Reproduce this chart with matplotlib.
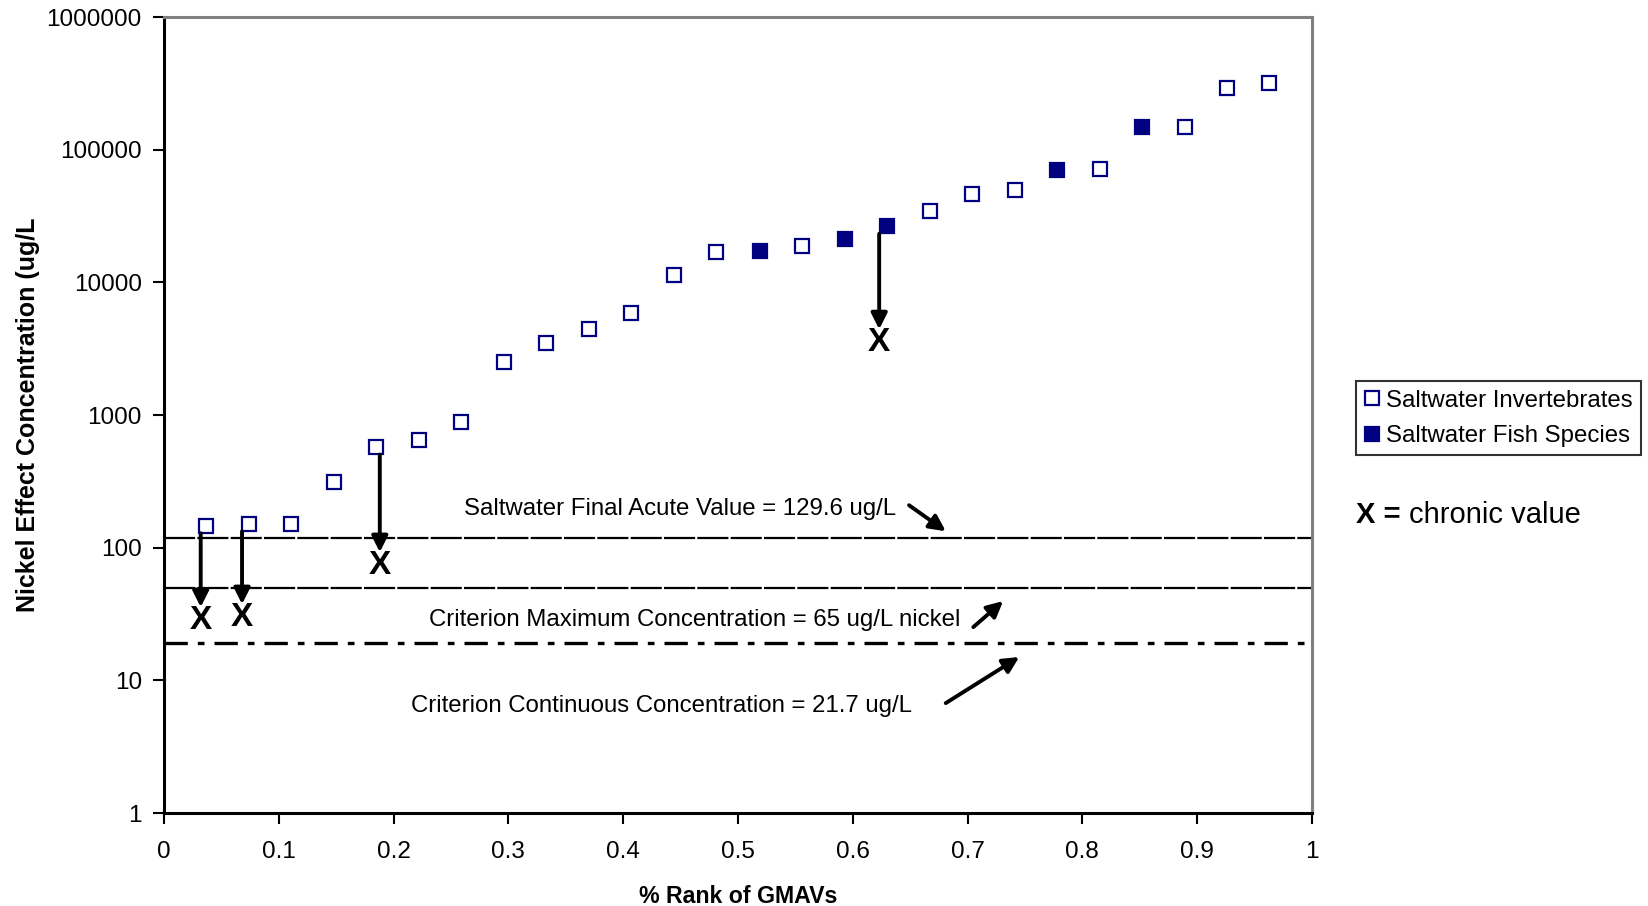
import matplotlib
matplotlib.use('Agg')
import matplotlib.pyplot as plt

plt.rcParams['font.family'] = ['Liberation Sans', 'DejaVu Sans']

# GMAV ranks and values (ug/L)
rank = [0.037, 0.074, 0.111, 0.148, 0.185, 0.222, 0.259, 0.296, 0.333,
        0.370, 0.407, 0.444, 0.481, 0.519, 0.556, 0.593, 0.630, 0.667,
        0.704, 0.741, 0.778, 0.815, 0.852, 0.889, 0.926, 0.963]
gmav = [146, 151, 151, 313, 572, 650, 887, 2500, 3480, 4420, 5900, 11400,
        17000, 17300, 18700, 21200, 26400, 34700, 46400, 50000, 70700,
        72000, 149000, 149000, 294000, 321000]
is_fish = [0, 0, 0, 0, 0, 0, 0, 0, 0, 0, 0, 0, 0, 1, 0, 1, 1, 0, 0, 0, 1,
           0, 1, 0, 0, 0]

# chronic values (x marks) and the GMAV they come from
chronic_idx = [0, 1, 4, 16]
chronic_x = [0.032, 0.068, 0.188, 0.623]
chronic_y = [28.5, 30, 74, 3540]

# criteria lines
fav, cmc, ccc = 118, 50, 19

navy = '#000080'

fig = plt.figure(figsize=(16.48, 9.06), dpi=100)
ax = fig.add_axes([0.0995, 0.1026, 0.6966, 0.8786])

inv_x = [r for r, f in zip(rank, is_fish) if not f]
inv_y = [g for g, f in zip(gmav, is_fish) if not f]
fish_x = [r for r, f in zip(rank, is_fish) if f]
fish_y = [g for g, f in zip(gmav, is_fish) if f]

ax.plot(inv_x, inv_y, 's', ms=10, mfc='white', mec=navy, mew=1.6,
        label='Saltwater Invertebrates')
ax.plot(fish_x, fish_y, 's', ms=10, mfc=navy, mec=navy, mew=1.6,
        label='Saltwater Fish Species')

ax.axhline(fav, color='black', lw=1.6, ls=(0, (14, 1)))
ax.axhline(cmc, color='black', lw=1.6, ls=(0, (14, 1)))
ax.axhline(ccc, color='black', lw=2.4, ls=(0, (7, 3, 2, 3)))

arrow = dict(arrowstyle='-|>', color='black', lw=2.8, mutation_scale=24,
             shrinkA=0, shrinkB=0)

for i, cx, cy in zip(chronic_idx, chronic_x, chronic_y):
    ax.annotate('', xy=(cx, cy * 1.25), xytext=(cx, gmav[i] * 0.88),
                arrowprops=arrow)
    ax.text(cx, cy, 'X', fontsize=24, fontweight='bold', ha='center',
            va='center')

ax.text(0.261, 195, 'Saltwater Final Acute Value = 129.6 ug/L',
        fontsize=17.3, va='center')
ax.annotate('', xy=(0.681, 133), xytext=(0.649, 209), arrowprops=arrow)
ax.text(0.231, 28.5, 'Criterion Maximum Concentration = 65 ug/L nickel',
        fontsize=17.3, va='center')
ax.annotate('', xy=(0.731, 39.6), xytext=(0.705, 25.2), arrowprops=arrow)
ax.text(0.215, 6.4, 'Criterion Continuous Concentration = 21.7 ug/L',
        fontsize=17.3, va='center')
ax.annotate('', xy=(0.745, 15.0), xytext=(0.681, 6.74), arrowprops=arrow)

ax.set_yscale('log')
ax.set_xlim(0, 1)
ax.set_ylim(1, 1e6)
ax.set_xticks([0, 0.1, 0.2, 0.3, 0.4, 0.5, 0.6, 0.7, 0.8, 0.9, 1])
ax.set_xticklabels(['0', '0.1', '0.2', '0.3', '0.4', '0.5', '0.6', '0.7',
                    '0.8', '0.9', '1'])
ax.set_yticks([1, 10, 100, 1000, 10000, 100000, 1000000])
ax.set_yticklabels(['1', '10', '100', '1000', '10000', '100000', '1000000'])
ax.minorticks_off()
ax.tick_params(labelsize=17.5, length=8, width=1.5, direction='out')
ax.tick_params(axis='x', pad=12)
ax.tick_params(axis='y', pad=8)

for s in ['left', 'bottom']:
    ax.spines[s].set_color('black')
    ax.spines[s].set_linewidth(2.2)
for s in ['top', 'right']:
    ax.spines[s].set_color('#808080')
    ax.spines[s].set_linewidth(2.2)

ax.set_xlabel('% Rank of GMAVs', fontsize=16.7, fontweight='bold',
              labelpad=16)
ax.set_ylabel('Nickel Effect Concentration (ug/L', fontsize=18,
              fontweight='bold', labelpad=5)

leg = fig.legend(loc='upper left', bbox_to_anchor=(0.823, 0.579),
                 fontsize=17.3, frameon=True, fancybox=False,
                 handlelength=0.6, handletextpad=0.3, borderpad=0.35,
                 labelspacing=0.55, borderaxespad=0)
leg.get_frame().set_edgecolor('black')
leg.get_frame().set_linewidth(1.5)

fig.text(0.823, 0.432, 'X =', fontsize=21, fontweight='bold', va='center')
fig.text(0.855, 0.432, 'chronic value', fontsize=21, va='center')

fig.savefig('out.png', dpi=100)
